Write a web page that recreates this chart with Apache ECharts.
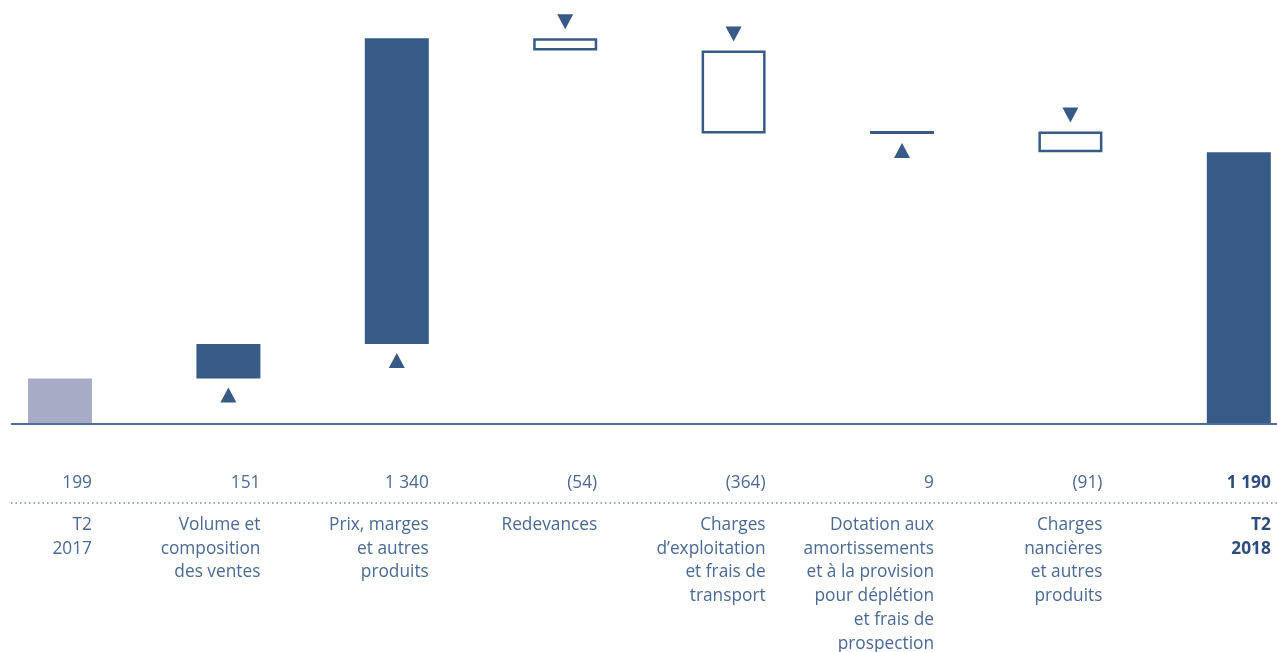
<!DOCTYPE html>
<html><head><meta charset="utf-8">
<script src="https://cdn.jsdelivr.net/npm/echarts@6/dist/echarts.min.js"></script>
<style>html,body{margin:0;padding:0;background:#fff}#c{width:1277px;height:652px}</style>
</head><body><div id="c"></div>
<script>
var categories = ['T2\n2017', 'Volume et\ncomposition\ndes ventes', 'Prix, marges\net autres\nproduits', 'Redevances', 'Charges\nd\u2019exploitation\net frais de\ntransport', 'Dotation aux\namortissements\net à la provision\npour déplétion\net frais de\nprospection', 'Charges\nnancières\net autres\nproduits', 'T2\n2018'];
var valueLabels = ['199', '151', '1 340', '(54)', '(364)', '9', '(91)', '1 190'];
var values = [199, 151, 1340, -54, -364, 9, -91, 1190];
var kinds = ['start', 'delta', 'delta', 'delta', 'delta', 'delta', 'delta', 'end'];

var DARK = '#375a87', LIGHT = '#a7abc6', TXT = '#4a6994', TXTB = '#2d4d7e';
var FONT = '"Open Sans", "Noto Sans", sans-serif';

var data = [];
var cum = 0;
for (var i = 0; i < values.length; i++) {
  var lo, hi;
  if (kinds[i] === 'delta') { lo = cum; hi = cum + values[i]; cum = hi; }
  else { lo = 0; hi = values[i]; cum = values[i]; }
  data.push([i, lo, hi, values[i]]);
}

var chart = echarts.init(document.getElementById('c'));
function renderItem(params, api) {
  var i = api.value(0), lo = api.value(1), hi = api.value(2), v = api.value(3);
  var kind = kinds[i];
  var p0 = api.coord([i, Math.min(lo, hi)]);
  var p1 = api.coord([i, Math.max(lo, hi)]);
  var base = api.coord([i, 0]);
  var w = 64, cx = p0[0], x = cx - w / 2;
  var top = p1[1], bot = p0[1];
  var h = Math.max(bot - top, 3);
  if (bot - top < 3) { top = (top + bot) / 2 - 1.5; }
  var children = [];
  if (kind === 'start') {
    children.push({ type: 'rect', shape: { x: x, y: top, width: w, height: h }, style: { fill: LIGHT } });
  } else if (kind === 'end' || v >= 0) {
    children.push({ type: 'rect', shape: { x: x, y: top, width: w, height: h }, style: { fill: DARK } });
  } else {
    children.push({ type: 'rect', shape: { x: x + 1.25, y: top + 1.25, width: w - 2.5, height: h - 2.5 }, style: { fill: '#fff', stroke: DARK, lineWidth: 2.5 } });
  }
  if (kind === 'delta') {
    if (v >= 0) {
      var b = top + h;
      children.push({ type: 'polygon', shape: { points: [[cx, b + 9], [cx + 8, b + 24], [cx - 8, b + 24]] }, style: { fill: DARK } });
    } else {
      children.push({ type: 'polygon', shape: { points: [[cx - 8, top - 24], [cx + 8, top - 24], [cx, top - 9]] }, style: { fill: DARK } });
    }
  }
  var bold = kind === 'end';
  children.push({ type: 'text', style: { text: valueLabels[i], x: x + w, y: base[1] + 59, align: 'right', verticalAlign: 'middle', fill: bold ? TXTB : TXT, font: (bold ? 'bold ' : '') + '17.3px ' + FONT } });
  children.push({ type: 'text', style: { text: categories[i], x: x + w, y: base[1] + 89, align: 'right', verticalAlign: 'top', lineHeight: 23.8, fill: bold ? TXTB : TXT, font: (bold ? 'bold ' : '') + '17.3px ' + FONT } });
  return { type: 'group', children: children };
}

chart.setOption({
  animation: false,
  grid: { left: 0, right: 0, top: 0, bottom: 228 },
  xAxis: { type: 'value', min: -60 / 168.4, max: 1217 / 168.4, show: false },
  yAxis: { type: 'value', min: 0, max: 1857, show: false },
  series: [{ type: 'custom', renderItem: renderItem, data: data, clip: false }]
});
var by = chart.convertToPixel({ yAxisIndex: 0 }, 0);
chart.setOption({
  graphic: [
    { type: 'line', shape: { x1: 11, y1: by, x2: 1277, y2: by }, style: { stroke: '#4d6d9a', lineWidth: 2 }, z: 10 },
    { type: 'line', shape: { x1: 11, y1: by + 79, x2: 1277, y2: by + 79 }, style: { stroke: '#7a8aa8', lineWidth: 1.5, lineDash: [1.5, 3] } }
  ]
});
</script></body></html>
